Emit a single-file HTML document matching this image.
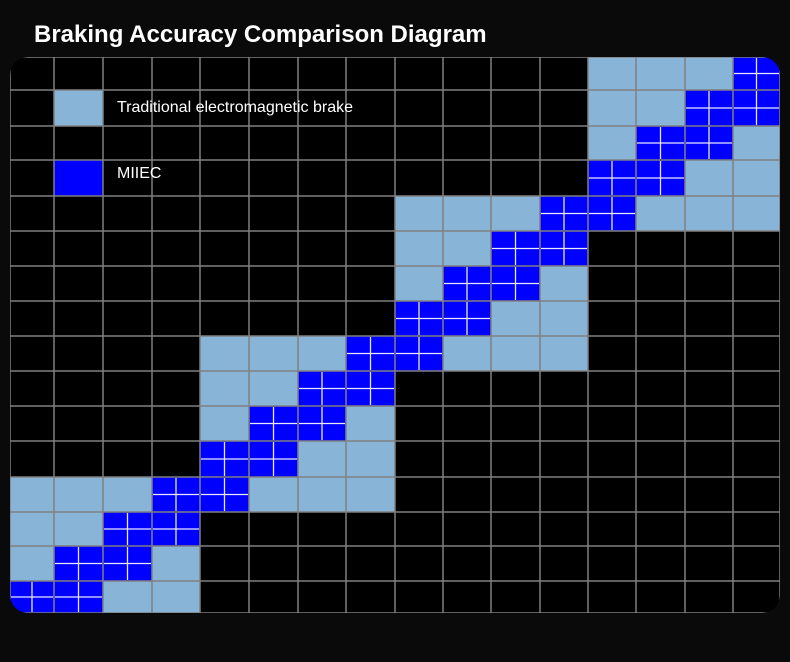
<!DOCTYPE html>
<html><head><meta charset="utf-8"><style>
html,body{margin:0;padding:0;background:#0a0a0a;}
body{width:790px;height:657px;overflow:hidden;font-family:"Liberation Sans",sans-serif;}
</style></head><body>
<svg width="790" height="657" xmlns="http://www.w3.org/2000/svg" id="s">
<rect width="790" height="657" fill="#0a0a0a"/>
<text x="34" y="42" fill="#fff" font-family="Liberation Sans, sans-serif" font-weight="bold" font-size="24">Braking Accuracy Comparison Diagram</text>
<defs><clipPath id="c"><rect x="10" y="57" width="770" height="556" rx="18"/></clipPath></defs>
<g clip-path="url(#c)" id="g">
<rect x="10" y="57" width="770" height="556" fill="#000"/>
</g>
<text x="117" y="112" fill="#fff" font-family="Liberation Sans, sans-serif" font-size="16" textLength="236" lengthAdjust="spacingAndGlyphs">Traditional electromagnetic brake</text>
<text x="117" y="178" fill="#fff" font-family="Liberation Sans, sans-serif" font-size="16">MIIEC</text>
</svg>
<script>
var g=document.getElementById('g'),NS='http://www.w3.org/2000/svg';
var CX=[10,54,103,152,200,249,298,346,395,443,491,540,588,636,685,733,780];
var RY=[57,90,126,160,196,231,266,301,336,371,406,441,477,512,546,581,613];
function r(x,y,w,h,f){var e=document.createElementNS(NS,'rect');e.setAttribute('x',x);e.setAttribute('y',y);e.setAttribute('width',w);e.setAttribute('height',h);e.setAttribute('fill',f);g.appendChild(e);}
function l(x1,y1,x2,y2,s,w){var e=document.createElementNS(NS,'line');e.setAttribute('x1',x1);e.setAttribute('y1',y1);e.setAttribute('x2',x2);e.setAttribute('y2',y2);e.setAttribute('stroke',s);e.setAttribute('stroke-width',w);g.appendChild(e);}
var LB='#88b4d8',B='#0000ff';
var blue=[];
function cell(c,t,f){r(CX[c],RY[t],CX[c+1]-CX[c],RY[t+1]-RY[t],f);}
var rows={0:[[0,1],[2,3]],1:[[1,2],[0,3]],2:[[2,3],[0,1]],3:[[3,4],[0,1,2,5,6,7]],
4:[[4,5],[6,7]],5:[[5,6],[4,7]],6:[[6,7],[4,5]],7:[[7,8],[4,5,6,9,10,11]],
8:[[8,9],[10,11]],9:[[9,10],[8,11]],10:[[10,11],[8,9]],11:[[11,12],[8,9,10,13,14,15]],
12:[[12,13],[14,15]],13:[[13,14],[12,15]],14:[[14,15],[12,13]],15:[[15],[12,13,14]]};
for(var i=0;i<16;i++){var t=15-i;var d=rows[i];
 d[1].forEach(function(c){cell(c,t,LB);});
 d[0].forEach(function(c){cell(c,t,B);blue.push([c,t]);});}
cell(1,1,LB);cell(1,3,B);
for(var i=0;i<=16;i++){l(CX[i],57,CX[i],613,'#808080',1.5);l(10,RY[i],780,RY[i],'#808080',1.5);}
blue.forEach(function(p){var x0=CX[p[0]],x1=CX[p[0]+1],y0=RY[p[1]],y1=RY[p[1]+1];
l((x0+x1)/2,y0+1,(x0+x1)/2,y1-1,'#e8e8ff',1.3);l(x0+1,(y0+y1)/2,x1-1,(y0+y1)/2,'#e8e8ff',1.3);});
</script>
</body></html>
